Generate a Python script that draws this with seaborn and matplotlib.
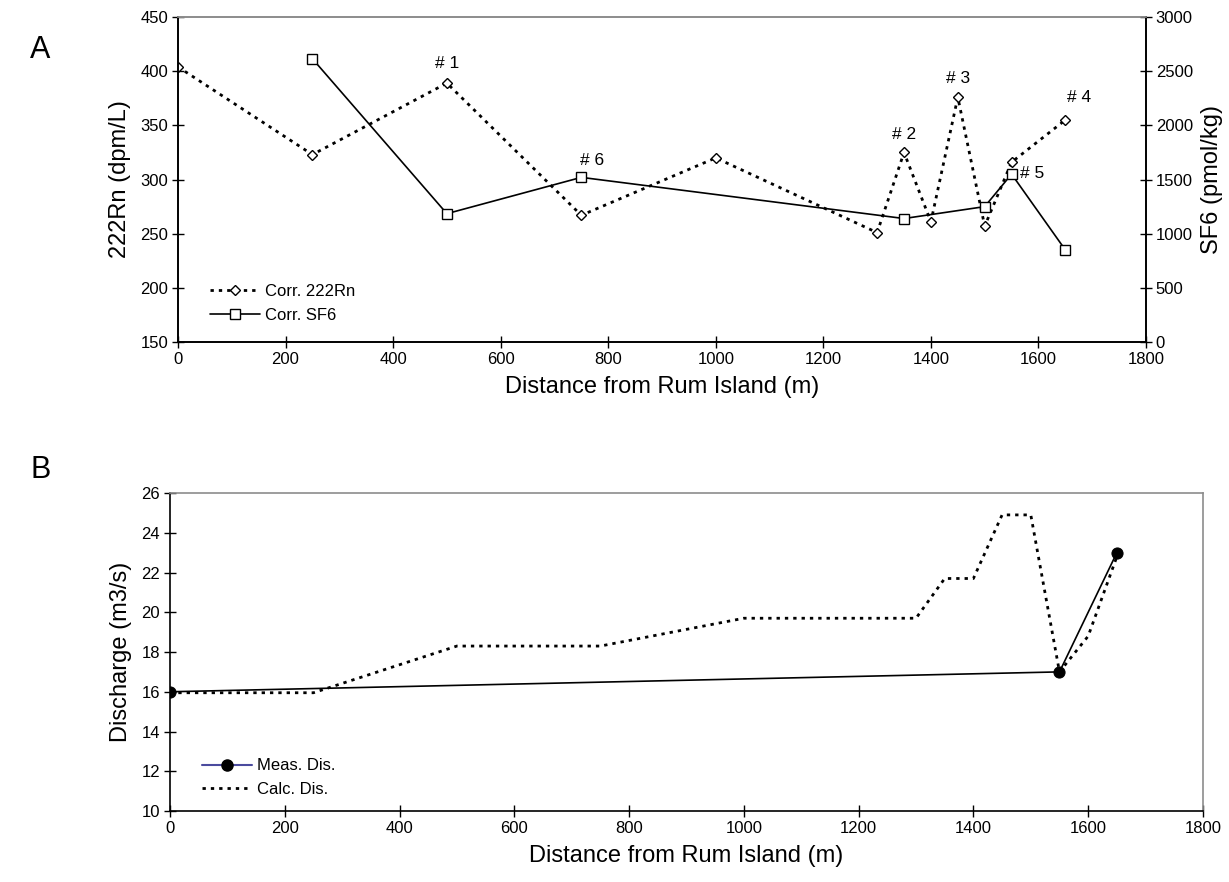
import matplotlib
matplotlib.use("Agg")
import matplotlib.pyplot as plt
from matplotlib.lines import Line2D
import seaborn as sns

# panel A data
dist_rn = [0, 250, 500, 750, 1000, 1300, 1350, 1400, 1450, 1500, 1550, 1650]
rn = [404, 323, 389, 267, 320, 251, 325, 261, 376, 257, 316, 355]
dist_sf6 = [250, 500, 750, 1350, 1500, 1550, 1650]
sf6 = [2615, 1185, 1520, 1140, 1250, 1550, 850]

# station labels: (label, series, index in series)
stations = [("# 1", "rn", 2), ("# 2", "rn", 6), ("# 3", "rn", 8),
            ("# 4", "rn", 11), ("# 5", "sf6", 5), ("# 6", "sf6", 2)]

# panel B data
dist_meas = [0, 1550, 1650]
meas = [16.0, 17.0, 23.0]
dist_calc = [0, 250, 500, 750, 1000, 1300, 1350, 1400, 1450, 1500, 1550, 1600, 1650]
calc = [15.95, 15.95, 18.3, 18.3, 19.7, 19.7, 21.7, 21.7, 24.9, 24.9, 17.0, 18.8, 22.8]

sns.set_style("ticks")
plt.rcParams['font.family'] = ['Liberation Sans', 'DejaVu Sans']
plt.rcParams['text.color'] = 'black'
plt.rcParams['axes.labelcolor'] = 'black'

fig = plt.figure(figsize=(12.29, 8.82), dpi=100)
axA = fig.add_axes([0.1448, 0.6122, 0.7877, 0.3685])
axB = fig.add_axes([0.1383, 0.0805, 0.8405, 0.3605])

dot = (1.2, 1.8)
tick_kw = dict(direction="inout", length=8, width=1, labelsize=12,
               colors="black", pad=3)

# ---- panel A
sns.lineplot(x=dist_rn, y=rn, ax=axA, color="black", lw=2,
             linestyle=(0, dot), marker="D", markersize=5, markerfacecolor="white",
             markeredgecolor="black", markeredgewidth=1, estimator=None)
axA.set_xlim(0, 1800)
axA.set_ylim(150, 450)
axA.set_xticks(range(0, 1801, 200))
axA.set_yticks(range(150, 451, 50))
axA.set_xlabel("Distance from Rum Island (m)", fontsize=17, labelpad=7)
axA.set_ylabel("222Rn (dpm/L)", fontsize=17, labelpad=7)
axA.tick_params(**tick_kw)

axA2 = axA.twinx()
sns.lineplot(x=dist_sf6, y=sf6, ax=axA2, color="black", lw=1.2,
             marker="s", markersize=7, markerfacecolor="white",
             markeredgecolor="black", markeredgewidth=1, estimator=None)
axA2.set_ylim(0, 3000)
axA2.set_yticks(range(0, 3001, 500))
axA2.set_ylabel("SF6 (pmol/kg)", fontsize=17, labelpad=6)
axA2.tick_params(**tick_kw)

for ax in (axA, axA2):
    for s in ("left", "bottom", "right"):
        ax.spines[s].set_color("black")
        ax.spines[s].set_linewidth(1.2)
    ax.spines["top"].set_color("#8c8c8c")
    ax.spines["top"].set_linewidth(1.2)

offsets = {"# 1": (0, 20), "# 2": (0, 18), "# 3": (0, 19), "# 4": (14, 22),
           "# 5": (8, 1), "# 6": (11, 17)}
for lab, series, i in stations:
    if series == "rn":
        tgt, xy = axA, (dist_rn[i], rn[i])
    else:
        tgt, xy = axA2, (dist_sf6[i], sf6[i])
    ha = "left" if lab == "# 5" else "center"
    tgt.annotate(lab, xy=xy, xytext=offsets[lab], textcoords="offset pixels",
                 ha=ha, va="center", fontsize=12.5)

handlesA = [Line2D([], [], color="black", lw=2, linestyle=(0, dot), marker="D",
                   markersize=5, markerfacecolor="white", markeredgecolor="black"),
            Line2D([], [], color="black", lw=1.2, marker="s", markersize=7,
                   markerfacecolor="white", markeredgecolor="black")]
axA.legend(handlesA, ["Corr. 222Rn", "Corr. SF6"], loc="lower left",
           bbox_to_anchor=(0.033, 0.06), frameon=False, fontsize=12,
           handlelength=3.0, handletextpad=0.3, borderpad=0, borderaxespad=0,
           labelspacing=0.5)

# ---- panel B
sns.lineplot(x=dist_meas, y=meas, ax=axB, color="black", lw=1.2,
             marker="o", markersize=8, markerfacecolor="black",
             markeredgecolor="black", estimator=None)
sns.lineplot(x=dist_calc, y=calc, ax=axB, color="black", lw=2,
             linestyle=(0, dot), estimator=None)
axB.set_xlim(0, 1800)
axB.set_ylim(10, 26)
axB.set_xticks(range(0, 1801, 200))
axB.set_yticks(range(10, 27, 2))
axB.set_xlabel("Distance from Rum Island (m)", fontsize=17, labelpad=7)
axB.set_ylabel("Discharge (m3/s)", fontsize=17, labelpad=7)
axB.tick_params(**tick_kw)
for s in ("left", "bottom"):
    axB.spines[s].set_color("black")
    axB.spines[s].set_linewidth(1.2)
for s in ("top", "right"):
    axB.spines[s].set_visible(True)
    axB.spines[s].set_color("#8c8c8c")
    axB.spines[s].set_linewidth(1.2)

handlesB = [Line2D([], [], color="#4b4b9e", lw=1.5, marker="o", markersize=8,
                   markerfacecolor="black", markeredgecolor="black"),
            Line2D([], [], color="black", lw=2, linestyle=(0, dot))]
axB.legend(handlesB, ["Meas. Dis.", "Calc. Dis."], loc="lower left",
           bbox_to_anchor=(0.031, 0.045), frameon=False, fontsize=12,
           handlelength=3.0, handletextpad=0.3, borderpad=0, borderaxespad=0,
           labelspacing=0.5)

fig.text(0.033, 0.943, "A", fontsize=22, ha="center", va="center")
fig.text(0.033, 0.467, "B", fontsize=22, ha="center", va="center")

fig.savefig("out.png", dpi=100)
